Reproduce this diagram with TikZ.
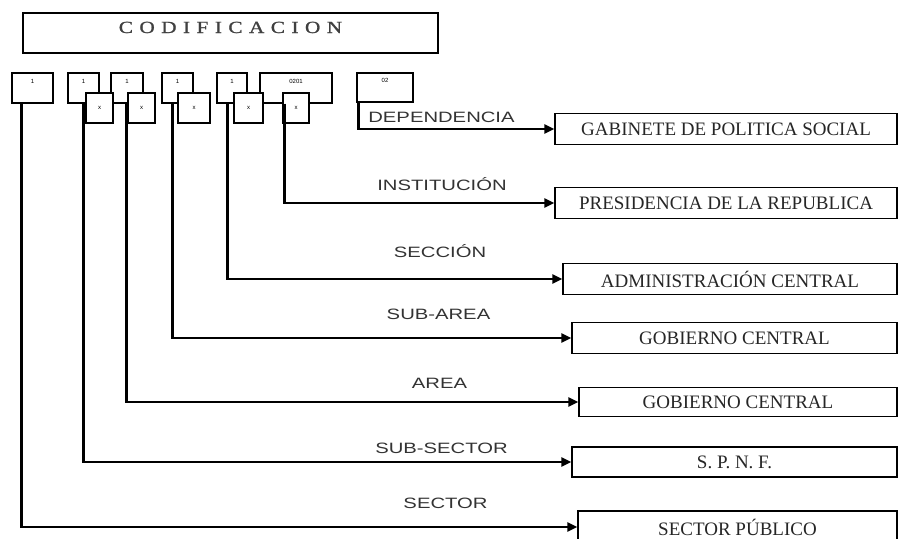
\documentclass[tikz,border=0pt]{standalone}
\usepackage{fontspec}
\setmainfont{Liberation Serif}
\newfontfamily\lblfont[FakeStretch=1.35]{Liberation Sans}
\newfontfamily\smallfont{Liberation Sans}
\newfontfamily\titlefont[LetterSpace=38,FakeStretch=1.25,FakeBold=1.2]{Liberation Serif}
\usetikzlibrary{arrows.meta,calc}
\begin{document}
\begin{tikzpicture}[x=1pt,y=-1pt,
  box/.style={draw, line width=1.2pt, fill=white, inner sep=0pt},
  codebox/.style={box, minimum height=30pt, font=\smallfont\fontsize{6}{7}\selectfont},
  target/.style={box, minimum height=31pt, font=\fontsize{19}{22}\selectfont, text=black!85},
  conn/.style={line width=2.8pt, -{Triangle[length=10pt,width=9pt]}},
  lbl/.style={font=\lblfont\fontsize{15}{18}\selectfont, text=black!80}]
\useasboundingbox (0,0) rectangle (899,538);
\fill[white] (0,0) rectangle (899,538);

% title
\node[box, minimum width=415pt, minimum height=40pt, font=\titlefont\fontsize{17}{20}\selectfont, text=black!75] (title) at (230.5,33) {\raisebox{0pt}[0pt][0pt]{CODIFICACION}};

% top row code boxes
\node[codebox, minimum width=41pt] (b1) at (32.5,88) {\raisebox{5pt}[0pt][0pt]{1}};
\node[codebox, minimum width=31pt] (b2) at (83.5,88) {\raisebox{5pt}[0pt][0pt]{1}};
\node[codebox, minimum width=32pt] (b3) at (127,88) {\raisebox{5pt}[0pt][0pt]{1}};
\node[codebox, minimum width=31pt] (b4) at (177.5,88) {\raisebox{5pt}[0pt][0pt]{1}};
\node[codebox, minimum width=30pt] (b5) at (232,88) {\raisebox{5pt}[0pt][0pt]{1}};
\node[codebox, minimum width=72pt] (b6) at (296,88) {\raisebox{5pt}[0pt][0pt]{0201}};
\node[codebox, minimum width=56pt, minimum height=29pt] (b7) at (385,87.5) {\raisebox{5pt}[0pt][0pt]{02}};

% lower x boxes
\node[codebox, minimum width=27pt] (x1) at (99.5,108) {x};
\node[codebox, minimum width=27pt] (x2) at (141.5,108) {x};
\node[codebox, minimum width=32pt] (x3) at (194,108) {x};
\node[codebox, minimum width=29pt] (x4) at (248.5,108) {x};
\node[codebox, minimum width=26pt] (x5) at (296,108) {x};

% target boxes
\node[target, minimum width=342pt] (gab) at (726,129) {GABINETE DE POLITICA SOCIAL};
\node[target, minimum width=342pt] (pres) at (726,203) {PRESIDENCIA DE LA REPUBLICA};
\node[target, minimum width=334pt] (adm) at (730,279) {ADMINISTRACIÓN CENTRAL};
\node[target, minimum width=325pt] (gc) at (734.5,338) {GOBIERNO CENTRAL};
\node[target, minimum width=318pt, minimum height=29pt] (gca) at (738,402) {GOBIERNO CENTRAL};
\node[target, minimum width=325pt, minimum height=30pt] (spnf) at (734.5,462) {S. P. N. F.};
\node[target, minimum width=319pt, minimum height=32pt] (sp) at (737.5,527) {SECTOR PÚBLICO};

% labels
\node[lbl] (ldep) at (441.5,117) {DEPENDENCIA};
\node[lbl] (linst) at (442,184) {INSTITUCIÓN};
\node[lbl] (lsec) at (440,251) {SECCIÓN};
\node[lbl] (lsuba) at (438.5,314) {SUB-AREA};
\node[lbl] (larea) at (439.5,383) {AREA};
\node[lbl] (lsubs) at (441.5,448) {SUB-SECTOR};
\node[lbl] (lsect) at (445.5,503) {SECTOR};

% connectors
\draw[conn] ($(b7.south west)+(2,0)$) |- (gab.west);
\draw[conn] ($(b6.south west)+(25,0)$) |- (pres.west);
\draw[conn] ($(b5.south west)+(11,0)$) |- (adm.west);
\draw[conn] ($(b4.south west)+(11,0)$) |- (gc.west);
\draw[conn] ($(b3.south west)+(16,0)$) |- (gca.west);
\draw[conn] ($(b2.south west)+(16,0)$) |- (spnf.west);
\draw[conn] ($(b1.south west)+(10,0)$) |- (sp.west);
\end{tikzpicture}
\end{document}
